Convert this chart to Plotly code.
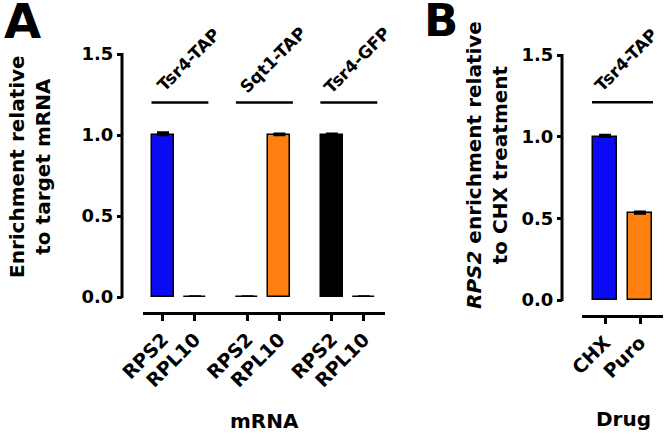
import plotly.graph_objects as go

W, H = 666, 434

# ---------------- data ----------------
groups_a = ["Tsr4-TAP", "Sqt1-TAP", "Tsr4-GFP"]
mrna = ["RPS2", "RPL10"]
vals_a = [[1.00, 0.003], [0.003, 1.00], [1.00, 0.003]]
err_a = [[0.015, 0.0], [0.0, 0.008], [0.008, 0.0]]
colors_a = [["#0a0af5", "#0a0af5"], ["#ff8010", "#ff8010"], ["#000000", "#000000"]]

drugs = ["CHX", "Puro"]
vals_b = [1.00, 0.53]
err_b = [0.010, 0.010]
colors_b = ["#0a0af5", "#ff8010"]
group_b = "Tsr4-TAP"

yticks = [0.0, 0.5, 1.0, 1.5]
ytick_text = ["0.0", "0.5", "1.0", "1.5"]

FONT = "DejaVu Sans"
GAP = 2.64  # distance between groups in axis units

def px(x):
    return x / W

def py(y):
    return 1 - y / H

fig = go.Figure()

# panel A bars
xa, ya, ea, ca, ta = [], [], [], [], []
for g, grp in enumerate(groups_a):
    for j, m in enumerate(mrna):
        xa.append(g * GAP + j)
        ya.append(vals_a[g][j])
        ea.append(err_a[g][j])
        ca.append(colors_a[g][j])
        ta.append(m)

fig.add_trace(go.Bar(
    x=xa, y=ya, width=0.69,
    marker=dict(color=ca, line=dict(color="#000000", width=1.5)),
    error_y=dict(type="data", array=ea, arrayminus=[0] * len(ea),
                 color="#000000", thickness=2.5, width=6),
    xaxis="x", yaxis="y", showlegend=False,
))

# panel B bars
xb = list(range(len(drugs)))
fig.add_trace(go.Bar(
    x=xb, y=vals_b, width=0.69,
    marker=dict(color=colors_b, line=dict(color="#000000", width=1.5)),
    error_y=dict(type="data", array=err_b, arrayminus=[0] * len(err_b),
                 color="#000000", thickness=2.5, width=6),
    xaxis="x2", yaxis="y2", showlegend=False,
))

tickfont = dict(family=FONT, size=18, color="#000000", weight="bold")
xtickfont = dict(family=FONT, size=19, color="#000000", weight="bold")

axis_common = dict(showgrid=False, zeroline=False, automargin=False,
                   linecolor="#000000", linewidth=3, ticks="outside",
                   tickcolor="#000000", tickwidth=2.5)

# axis placement (pixels)
YA_X, YA_BOT, YA_TOP = 122, 297, 54
YB_X, YB_BOT, YB_TOP = 562, 300, 55

fig.update_layout(
    template="none",
    width=W, height=H,
    margin=dict(l=0, r=0, t=0, b=0, autoexpand=False),
    paper_bgcolor="white", plot_bgcolor="white",
    bargap=0, showlegend=False,
    xaxis=dict(domain=[px(143), px(385)], anchor="free", position=py(313),
               range=[-0.625, 6.94], tickvals=xa, ticktext=ta, showline=True,
               tickangle=-45, ticklen=6, tickfont=xtickfont, **axis_common),
    yaxis=dict(domain=[py(YA_BOT), py(YA_TOP)], anchor="free", position=px(YA_X),
               range=[0, 1.5], tickvals=yticks, ticktext=ytick_text, showline=False,
               ticklen=5, tickfont=tickfont, **axis_common),
    xaxis2=dict(domain=[px(582), px(663)], anchor="free", position=py(316),
                range=[-0.657, 1.657], tickvals=xb, ticktext=drugs, showline=True,
                tickangle=-45, ticklen=6, tickfont=xtickfont, **axis_common),
    yaxis2=dict(domain=[py(YB_BOT), py(YB_TOP)], anchor="free", position=px(YB_X),
                range=[0, 1.5], tickvals=yticks, ticktext=ytick_text, showline=False,
                ticklen=5, tickfont=tickfont, **axis_common),
)

shapes = []
annotations = []

# y axis lines (drawn at the free axis position)
for X, B, T in [(YA_X, YA_BOT, YA_TOP), (YB_X, YB_BOT, YB_TOP)]:
    shapes.append(dict(type="line", xref="paper", yref="paper", x0=px(X), x1=px(X),
                       y0=py(B + 1), y1=py(T - 1), line=dict(color="#000000", width=3)))

lab_font = dict(family=FONT, size=17, color="#000000", weight="bold")

# group lines and labels in panel A
for g, grp in enumerate(groups_a):
    c = g * GAP + 0.5
    shapes.append(dict(type="line", xref="x", yref="y", x0=c - 0.86, x1=c + 0.92,
                       y0=1.2, y1=1.2, line=dict(color="#000000", width=2.5)))
    annotations.append(dict(text=grp, xref="x", yref="y", x=c + 0.3, y=1.46,
                            textangle=-45, showarrow=False, font=lab_font,
                            xanchor="center", yanchor="middle"))

# group line and label panel B
shapes.append(dict(type="line", xref="x2", yref="y2", x0=-0.37, x1=1.37,
                   y0=1.21, y1=1.21, line=dict(color="#000000", width=2.5)))
annotations.append(dict(text=group_b, xref="x2", yref="y2", x=0.6, y=1.47,
                        textangle=-45, showarrow=False, font=lab_font,
                        xanchor="center", yanchor="middle"))

title_font = dict(family=FONT, size=20, color="#000000", weight="bold")
annotations += [
    dict(text="Enrichment relative<br>to target mRNA", xref="paper", yref="paper",
         x=px(30), y=py(167), textangle=-90, showarrow=False, font=title_font,
         xanchor="center", yanchor="middle"),
    dict(text="<i>RPS2</i> enrichment relative<br>to CHX treatment", xref="paper",
         yref="paper", x=px(487), y=py(165), textangle=-90, showarrow=False,
         font=title_font, xanchor="center", yanchor="middle"),
    dict(text="mRNA", xref="paper", yref="paper", x=px(264), y=py(421),
         showarrow=False, font=title_font, xanchor="center", yanchor="middle"),
    dict(text="Drug", xref="paper", yref="paper", x=px(623), y=py(419),
         showarrow=False, font=title_font, xanchor="center", yanchor="middle"),
    dict(text="A", xref="paper", yref="paper", x=px(22), y=py(21),
         showarrow=False, font=dict(family=FONT, size=48, color="#000000", weight="bold"),
         xanchor="center", yanchor="middle"),
    dict(text="B", xref="paper", yref="paper", x=px(441), y=py(21),
         showarrow=False, font=dict(family=FONT, size=45, color="#000000", weight="bold"),
         xanchor="center", yanchor="middle"),
]

fig.update_layout(shapes=shapes, annotations=annotations)
fig.write_html("out.html", config={"displayModeBar": False},
               post_script="document.body.style.margin='0';document.body.style.overflow='hidden';")
